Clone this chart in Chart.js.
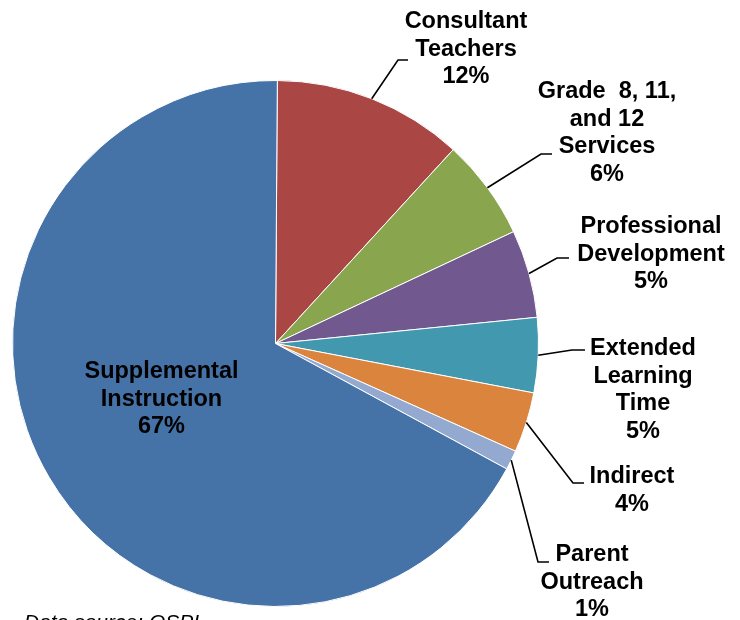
<!DOCTYPE html>
<html>
<head>
<meta charset="utf-8">
<script src="https://cdn.jsdelivr.net/npm/chart.js@4"></script>
<style>
  html, body { margin: 0; padding: 0; background: #ffffff; }
  #wrap { width: 740px; height: 620px; position: relative; }
</style>
</head>
<body>
<div id="wrap"><canvas id="c" width="740" height="620"></canvas></div>
<script>
// ---- data ----
const categories = [
  ["Consultant", "Teachers"],
  ["Grade  8, 11,", "and 12", "Services"],
  ["Professional", "Development"],
  ["Extended", "Learning", "Time"],
  ["Indirect"],
  ["Parent", "Outreach"],
  ["Supplemental", "Instruction"]
];
const shares = [11.7, 6.2, 5.4, 4.6, 3.7, 1.2, 67.2];
const sliceColors = ["#AA4643", "#89A54E", "#71588F", "#4198AF", "#DB843D", "#93A9CF", "#4572A7"];
const sourceNote = "Data source: OSPI";

// label placement (annotation layout): text centre x, first baseline y, leader elbow
const labelLayout = [
  { cx: 466, y0: 28,  elbow: [398, 60],  stub: 10 },
  { cx: 607, y0: 98,  elbow: [541, 154], stub: 11 },
  { cx: 651, y0: 233, elbow: [557, 258], stub: 12 },
  { cx: 643, y0: 355, elbow: [572, 350], stub: 13 },
  { cx: 632, y0: 483, elbow: [573, 483], stub: 11 },
  { cx: 592, y0: 561, elbow: [538, 562], stub: 11 },
  { cx: 161.5, y0: 378, elbow: null }
];
const LINE_H = 27.5;
const FONT = "bold 23.5px 'Liberation Sans', Arial, sans-serif";

const labelPlugin = {
  id: 'sliceLabels',
  afterDraw(chart) {
    const ctx = chart.ctx;
    const meta = chart.getDatasetMeta(0);
    const data = chart.data.datasets[0].data;
    const total = data.reduce((a, b) => a + b, 0);
    ctx.save();
    meta.data.forEach((arc, i) => {
      const L = labelLayout[i];
      const mid = (arc.startAngle + arc.endAngle) / 2;
      if (L.elbow) {
        const sx = arc.x + arc.outerRadius * Math.cos(mid);
        const sy = arc.y + arc.outerRadius * Math.sin(mid);
        ctx.beginPath();
        ctx.strokeStyle = '#000000';
        ctx.lineWidth = 1.6;
        ctx.moveTo(sx, sy);
        ctx.lineTo(L.elbow[0], L.elbow[1]);
        ctx.lineTo(L.elbow[0] + L.stub, L.elbow[1]);
        ctx.stroke();
      }
      const lines = chart.data.labels[i].concat([Math.round(data[i] / total * 100) + '%']);
      ctx.font = FONT;
      ctx.fillStyle = '#000000';
      ctx.textAlign = 'center';
      ctx.textBaseline = 'alphabetic';
      lines.forEach((t, k) => ctx.fillText(t, L.cx, L.y0 + k * LINE_H));
    });
    // source note
    ctx.font = "italic 21px 'Liberation Sans', Arial, sans-serif";
    ctx.textAlign = 'left';
    ctx.fillStyle = '#000000';
    ctx.fillText(sourceNote, 24, 629);
    ctx.restore();
  }
};

new Chart(document.getElementById('c'), {
  type: 'pie',
  data: {
    labels: categories,
    datasets: [{
      data: shares,
      backgroundColor: sliceColors,
      borderColor: '#ffffff',
      borderWidth: 1
    }]
  },
  options: {
    responsive: false,
    animation: false,
    rotation: 0.4,
    layout: { padding: { left: 12, top: 80, right: 201, bottom: 13 } },
    plugins: {
      legend: { display: false },
      tooltip: { enabled: false },
      title: { display: false }
    }
  },
  plugins: [labelPlugin]
});
</script>
</body>
</html>
